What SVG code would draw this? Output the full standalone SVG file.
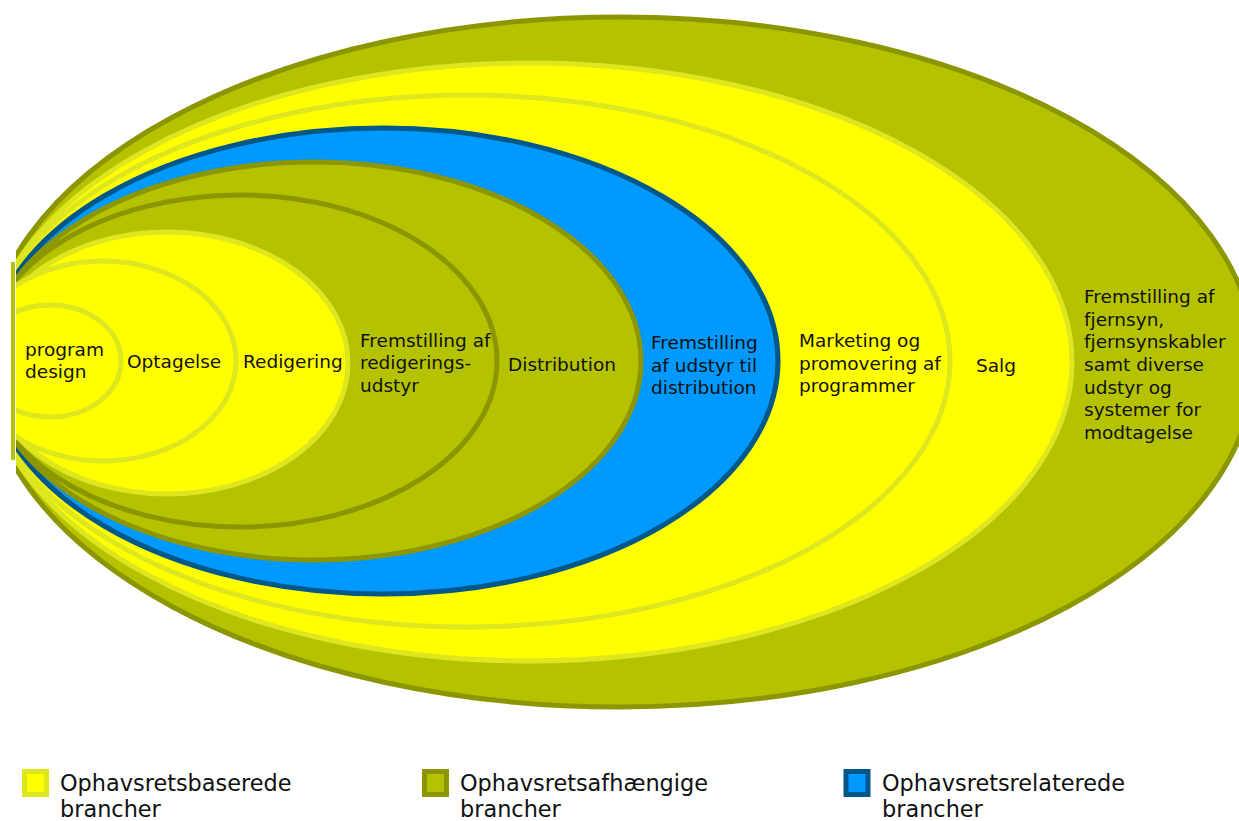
<svg xmlns="http://www.w3.org/2000/svg" width="1239" height="821" viewBox="0 0 1239 821">
<style>
.t{font-family:"DejaVu Sans","Liberation Sans",sans-serif;font-size:18.5px;fill:#111}
.lg{font-family:"DejaVu Sans","Liberation Sans",sans-serif;font-size:22.4px;fill:#111}
.ol{fill:#B5C200;stroke:#8C9600;stroke-width:5}
.ye{fill:#FFFF00;stroke:#DDE61E;stroke-width:5}
.bl{fill:#0099FF;stroke:#00578A;stroke-width:5}
</style>
<defs>
<clipPath id="clip"><rect x="16" y="0" width="1240" height="821"/></clipPath>
</defs>
<rect x="0" y="0" width="1239" height="821" fill="#FFFFFF"/>
<rect x="11" y="262" width="4" height="198" fill="#B5C200"/>
<g clip-path="url(#clip)">
<g id="ring-modtagelse"><ellipse class="ol" cx="620" cy="362" rx="635" ry="345"/></g>
<g id="ring-salg"><ellipse class="ye" cx="529" cy="362" rx="543" ry="299"/></g>
<g id="ring-marketing"><ellipse class="ye" cx="467" cy="361" rx="483" ry="266"/></g>
<g id="ring-udstyr-distribution"><ellipse class="bl" cx="383" cy="361" rx="395" ry="233"/></g>
<g id="ring-distribution"><ellipse class="ol" cx="314" cy="361" rx="327" ry="199"/></g>
<g id="ring-redigeringsudstyr"><ellipse class="ol" cx="240" cy="361" rx="257" ry="166"/></g>
<g id="ring-redigering"><ellipse class="ye" cx="167" cy="363" rx="181" ry="131"/></g>
<g id="ring-optagelse"><ellipse class="ye" cx="103" cy="361" rx="133" ry="100"/></g>
<g id="ring-programdesign"><ellipse class="ye" cx="50" cy="361" rx="71" ry="56"/></g>
</g>
<g id="labels">
<text class="t" x="25" y="356">program</text>
<text class="t" x="25" y="378">design</text>
<text class="t" x="127" y="368">Optagelse</text>
<text class="t" x="243" y="368">Redigering</text>
<text class="t" x="360" y="347">Fremstilling af</text>
<text class="t" x="360" y="369">redigerings-</text>
<text class="t" x="360" y="392">udstyr</text>
<text class="t" x="508" y="371">Distribution</text>
<text class="t" x="651" y="349">Fremstilling</text>
<text class="t" x="651" y="372">af udstyr til</text>
<text class="t" x="651" y="394">distribution</text>
<text class="t" x="799" y="347">Marketing og</text>
<text class="t" x="799" y="370">promovering af</text>
<text class="t" x="799" y="392">programmer</text>
<text class="t" x="976" y="372">Salg</text>
<text class="t" x="1084" y="303">Fremstilling af</text>
<text class="t" x="1084" y="326">fjernsyn,</text>
<text class="t" x="1084" y="348">fjernsynskabler</text>
<text class="t" x="1084" y="371">samt diverse</text>
<text class="t" x="1084" y="394">udstyr og</text>
<text class="t" x="1084" y="416">systemer for</text>
<text class="t" x="1084" y="439">modtagelse</text>
</g>
<g id="connectors"/>
<g id="legend">
<g id="legend-baserede">
<rect class="ye" x="24.5" y="771.5" width="22" height="23"/>
<text class="lg" x="60" y="791">Ophavsretsbaserede</text>
<text class="lg" x="60" y="817">brancher</text>
</g>
<g id="legend-afhaengige">
<rect class="ol" x="424.5" y="771.5" width="22" height="23"/>
<text class="lg" x="460" y="791">Ophavsretsafhængige</text>
<text class="lg" x="460" y="817">brancher</text>
</g>
<g id="legend-relaterede">
<rect class="bl" x="846" y="771.5" width="22" height="23"/>
<text class="lg" x="882" y="791">Ophavsretsrelaterede</text>
<text class="lg" x="882" y="817">brancher</text>
</g>
</g>
</svg>
